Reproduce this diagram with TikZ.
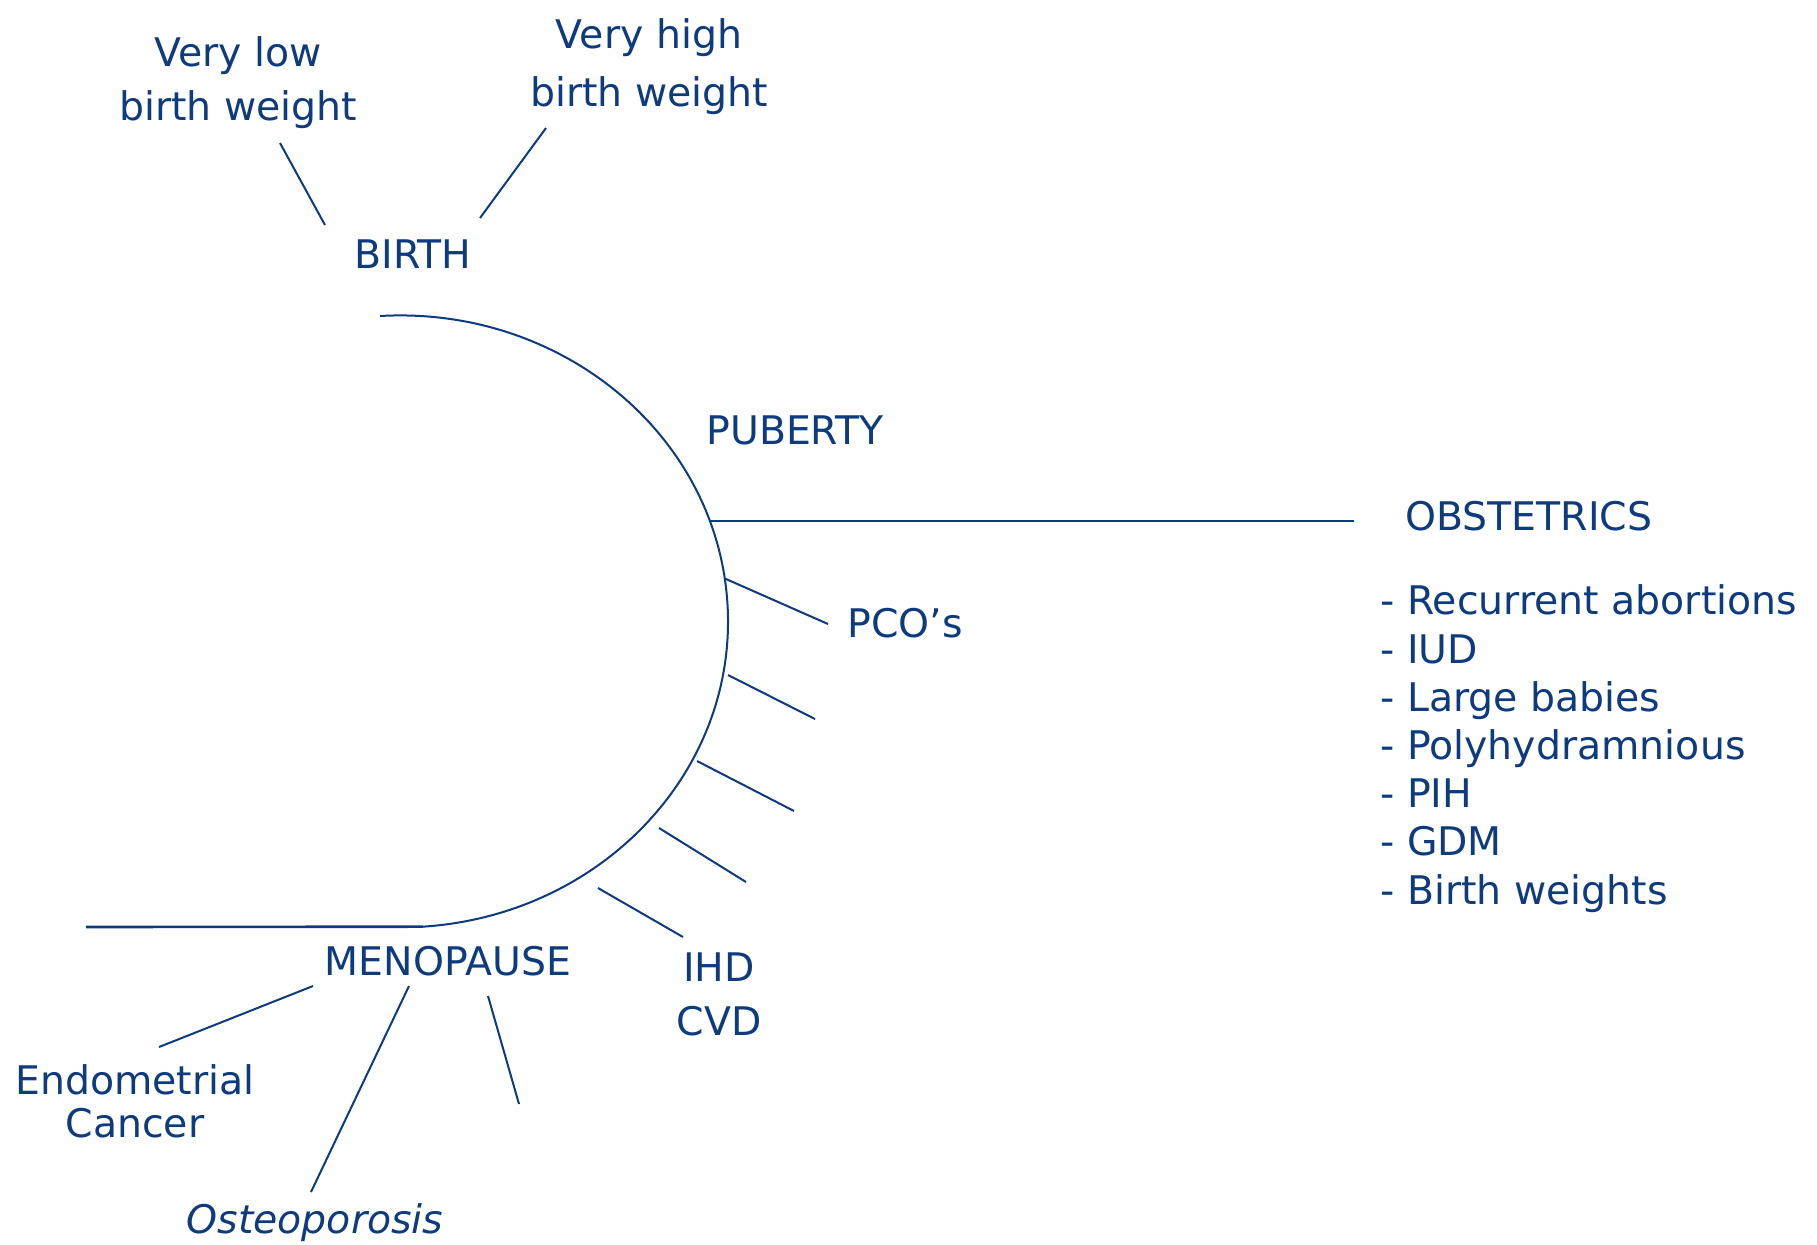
\documentclass[tikz,border=0pt]{standalone}
\usepackage{fontspec}
\setmainfont{DejaVu Sans}
\definecolor{navy}{RGB}{14,58,126}
\begin{document}
\begin{tikzpicture}[x=0.5pt,y=-0.5pt,
  lbl/.style={text=navy,inner sep=0pt,font=\fontsize{19.7}{24}\selectfont},
  conn/.style={draw=navy,line width=1pt},
  thick conn/.style={draw=navy,line width=1.3pt}]
\useasboundingbox[fill=white] (0,0) rectangle (1817,1244);

% labels (base anchor of a multi-line node = baseline of its last line)
\node[lbl,anchor=base,align=center,font=\fontsize{19.7}{26.8}\selectfont] (verylow) at (238,120) {Very low\\birth weight};
\node[lbl,anchor=base,align=center,font=\fontsize{19.7}{29}\selectfont] (veryhigh) at (649,106) {Very high\\birth weight};
\node[lbl,anchor=base] (birth) at (413,268) {BIRTH};
\node[lbl,anchor=base west] (puberty) at (706,444) {PUBERTY};
\node[lbl,anchor=base west] (obstetrics) at (1405,530) {OBSTETRICS};
\node[lbl,anchor=base west,align=left,font=\fontsize{19.7}{24.1}\selectfont] (oblist) at (1380,904) {- Recurrent abortions\\- IUD\\- Large babies\\- Polyhydramnious\\- PIH\\- GDM\\- Birth weights};
\node[lbl,anchor=base west] (pcos) at (847,637) {PCO’s};
\node[lbl,anchor=base,align=center,font=\fontsize{19.7}{26.7}\selectfont] (ihdcvd) at (719,1035) {IHD\\CVD};
\node[lbl,anchor=base] (menopause) at (448,975) {MENOPAUSE};
\node[lbl,anchor=base,align=center,font=\fontsize{19.7}{21.3}\selectfont] (endo) at (135,1137) {Endometrial\\Cancer};
\node[lbl,anchor=base,font=\fontsize{19.7}{24}\selectfont\itshape] (osteo) at (315,1233) {Osteoporosis};

% the life arc
\coordinate (arcstart) at (380,316);
\draw[conn] (arcstart) arc[start angle=93.5,end angle=-86,x radius=164pt,y radius=153pt] coordinate (arcend);
\coordinate (bottomleft) at (86,927);
\draw[thick conn] (bottomleft) -- (arcend);

% obstetrics line
\coordinate (obA) at (709,521);
\coordinate (obB) at (1354,521);
\draw[thick conn] (obA) -- (obB);

% birth branches
\coordinate (vlA) at (280,143); \coordinate (vlB) at (325,225);
\coordinate (vhA) at (546,128); \coordinate (vhB) at (480,218);
\draw[conn] (vlA) -- (vlB);
\draw[conn] (vhA) -- (vhB);

% ticks on the arc
\coordinate (t1A) at (726,579); \coordinate (t1B) at (828,624);
\coordinate (t2A) at (728,675); \coordinate (t2B) at (815,719);
\coordinate (t3A) at (697,761); \coordinate (t3B) at (794,811);
\coordinate (t4A) at (659,828); \coordinate (t4B) at (746,882);
\coordinate (t5A) at (598,888); \coordinate (t5B) at (683,937);
\foreach \i in {1,...,5}{\draw[conn] (t\i A) -- (t\i B);}

% menopause branches
\coordinate (m1A) at (313,986); \coordinate (m1B) at (159,1047);
\coordinate (m2A) at (409,986); \coordinate (m2B) at (311,1192);
\coordinate (m3A) at (488,996); \coordinate (m3B) at (519,1104);
\draw[conn] (m1A) -- (m1B);
\draw[conn] (m2A) -- (m2B);
\draw[conn] (m3A) -- (m3B);
\end{tikzpicture}
\end{document}
